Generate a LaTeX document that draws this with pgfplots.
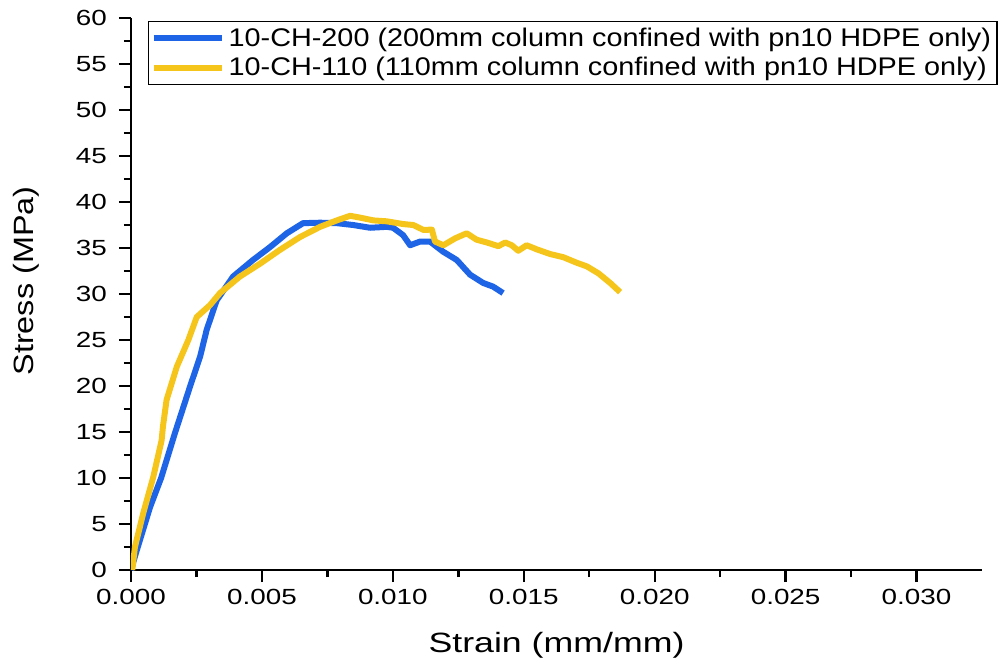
\documentclass[border=0pt]{standalone}
\usepackage{fontspec}
\setmainfont{Liberation Sans}
\newfontfamily\tickfont{Liberation Sans}[FakeStretch=1.27]
\newfontfamily\legfont{Liberation Sans}[FakeStretch=1.13]
\newfontfamily\xlabfont{Liberation Sans}[FakeStretch=1.28]
\newfontfamily\ylabfont{Liberation Sans}[FakeStretch=1.16]
\usepackage{pgfplots}
\pgfplotsset{compat=1.18}
\definecolor{cblue}{RGB}{30,100,230}
\definecolor{cyell}{RGB}{245,197,28}
\begin{document}
\begin{tikzpicture}
\begin{axis}[
  scale only axis, width=425.5bp, height=276bp,
  xmin=0, xmax=0.0325, ymin=0, ymax=60,
  axis x line=bottom, axis y line=left,
  axis line style={-, line width=1.3bp},
  tick align=outside,
  major tick length=6bp, minor tick length=3.5bp,
  every tick/.style={black, line width=1.2bp},
  xtick={0,0.005,0.01,0.015,0.02,0.025,0.03},
  ytick={0,5,...,60},
  minor x tick num=1, minor y tick num=1,
  scaled x ticks=false,
  xticklabel style={/pgf/number format/.cd, fixed, fixed zerofill, precision=3},
  yticklabel style={xshift=-2.5bp},
  /pgf/number format/assume math mode=true,
  tick label style={font=\tickfont\fontsize{11}{13}\selectfont},
  xlabel={Strain (mm/mm)}, ylabel={Stress (MPa)},
  xlabel style={font=\xlabfont\fontsize{14}{16}\selectfont, at={(axis description cs:0.5,-0.1486)}, anchor=base},
  ylabel style={font=\ylabfont\fontsize{14}{16}\selectfont, at={(axis description cs:-0.114,0.5236)}, anchor=base},
  legend style={at={(0.02,0.9946)}, anchor=north west, draw=black, line width=0.6bp,
    inner sep=1bp, font=\legfont\fontsize{12.8}{14}\selectfont, cells={anchor=west}},
  legend image code/.code={\draw[#1,line width=3bp] (0bp,0bp) -- (34bp,0bp);},
]
\addplot[cblue, line width=3bp, line join=round] coordinates {
(0,0) (0.00019,1.85) (0.00073,6.85) (0.00115,10) (0.00168,14.9) (0.00225,19.9)
(0.00264,23.2) (0.00289,26.1) (0.00327,29.3) (0.0039,31.9) (0.00466,33.7)
(0.00531,35.1) (0.00595,36.6) (0.00657,37.7) (0.00722,37.75) (0.00786,37.7)
(0.00848,37.5) (0.00913,37.2) (0.00977,37.3) (0.01001,37.2) (0.01039,36.4)
(0.01066,35.3) (0.01104,35.7) (0.01142,35.7) (0.01192,34.6) (0.01244,33.7)
(0.01295,32.1) (0.01345,31.2) (0.01383,30.8) (0.01421,30.1)
};
\addlegendentry{10-CH-200 (200mm column confined with pn10 HDPE only)}
\addplot[cyell, line width=3bp, line join=round] coordinates {
(0.00005,0) (0.00015,2.5) (0.00047,6.2) (0.00085,10.1) (0.00117,14.1) (0.00122,15.6)
(0.00136,18.5) (0.00175,22.1) (0.00219,25) (0.00251,27.5) (0.00302,28.8)
(0.0034,30.1) (0.00416,31.9) (0.00493,33.3) (0.00569,34.8) (0.00646,36.2)
(0.00722,37.3) (0.00786,38.0) (0.00837,38.5) (0.00875,38.3) (0.00926,38.0)
(0.00977,37.9) (0.0104,37.6) (0.01078,37.5) (0.01117,36.96) (0.01149,37.0)
(0.01161,35.7) (0.01193,35.3) (0.01238,36.05) (0.01282,36.6) (0.0132,35.9)
(0.01359,35.6) (0.01403,35.2) (0.01429,35.6) (0.01454,35.3) (0.01479,34.7)
(0.01511,35.3) (0.0155,34.85) (0.016,34.35) (0.01651,34.0) (0.01702,33.4)
(0.01741,33.0) (0.01785,32.25) (0.0183,31.2) (0.01868,30.2)
};
\addlegendentry{10-CH-110 (110mm column confined with pn10 HDPE only)}
\end{axis}
\pgfresetboundingbox
\useasboundingbox (-65.5bp,-46bp) rectangle (434.5bp,285bp);
\end{tikzpicture}
\end{document}
